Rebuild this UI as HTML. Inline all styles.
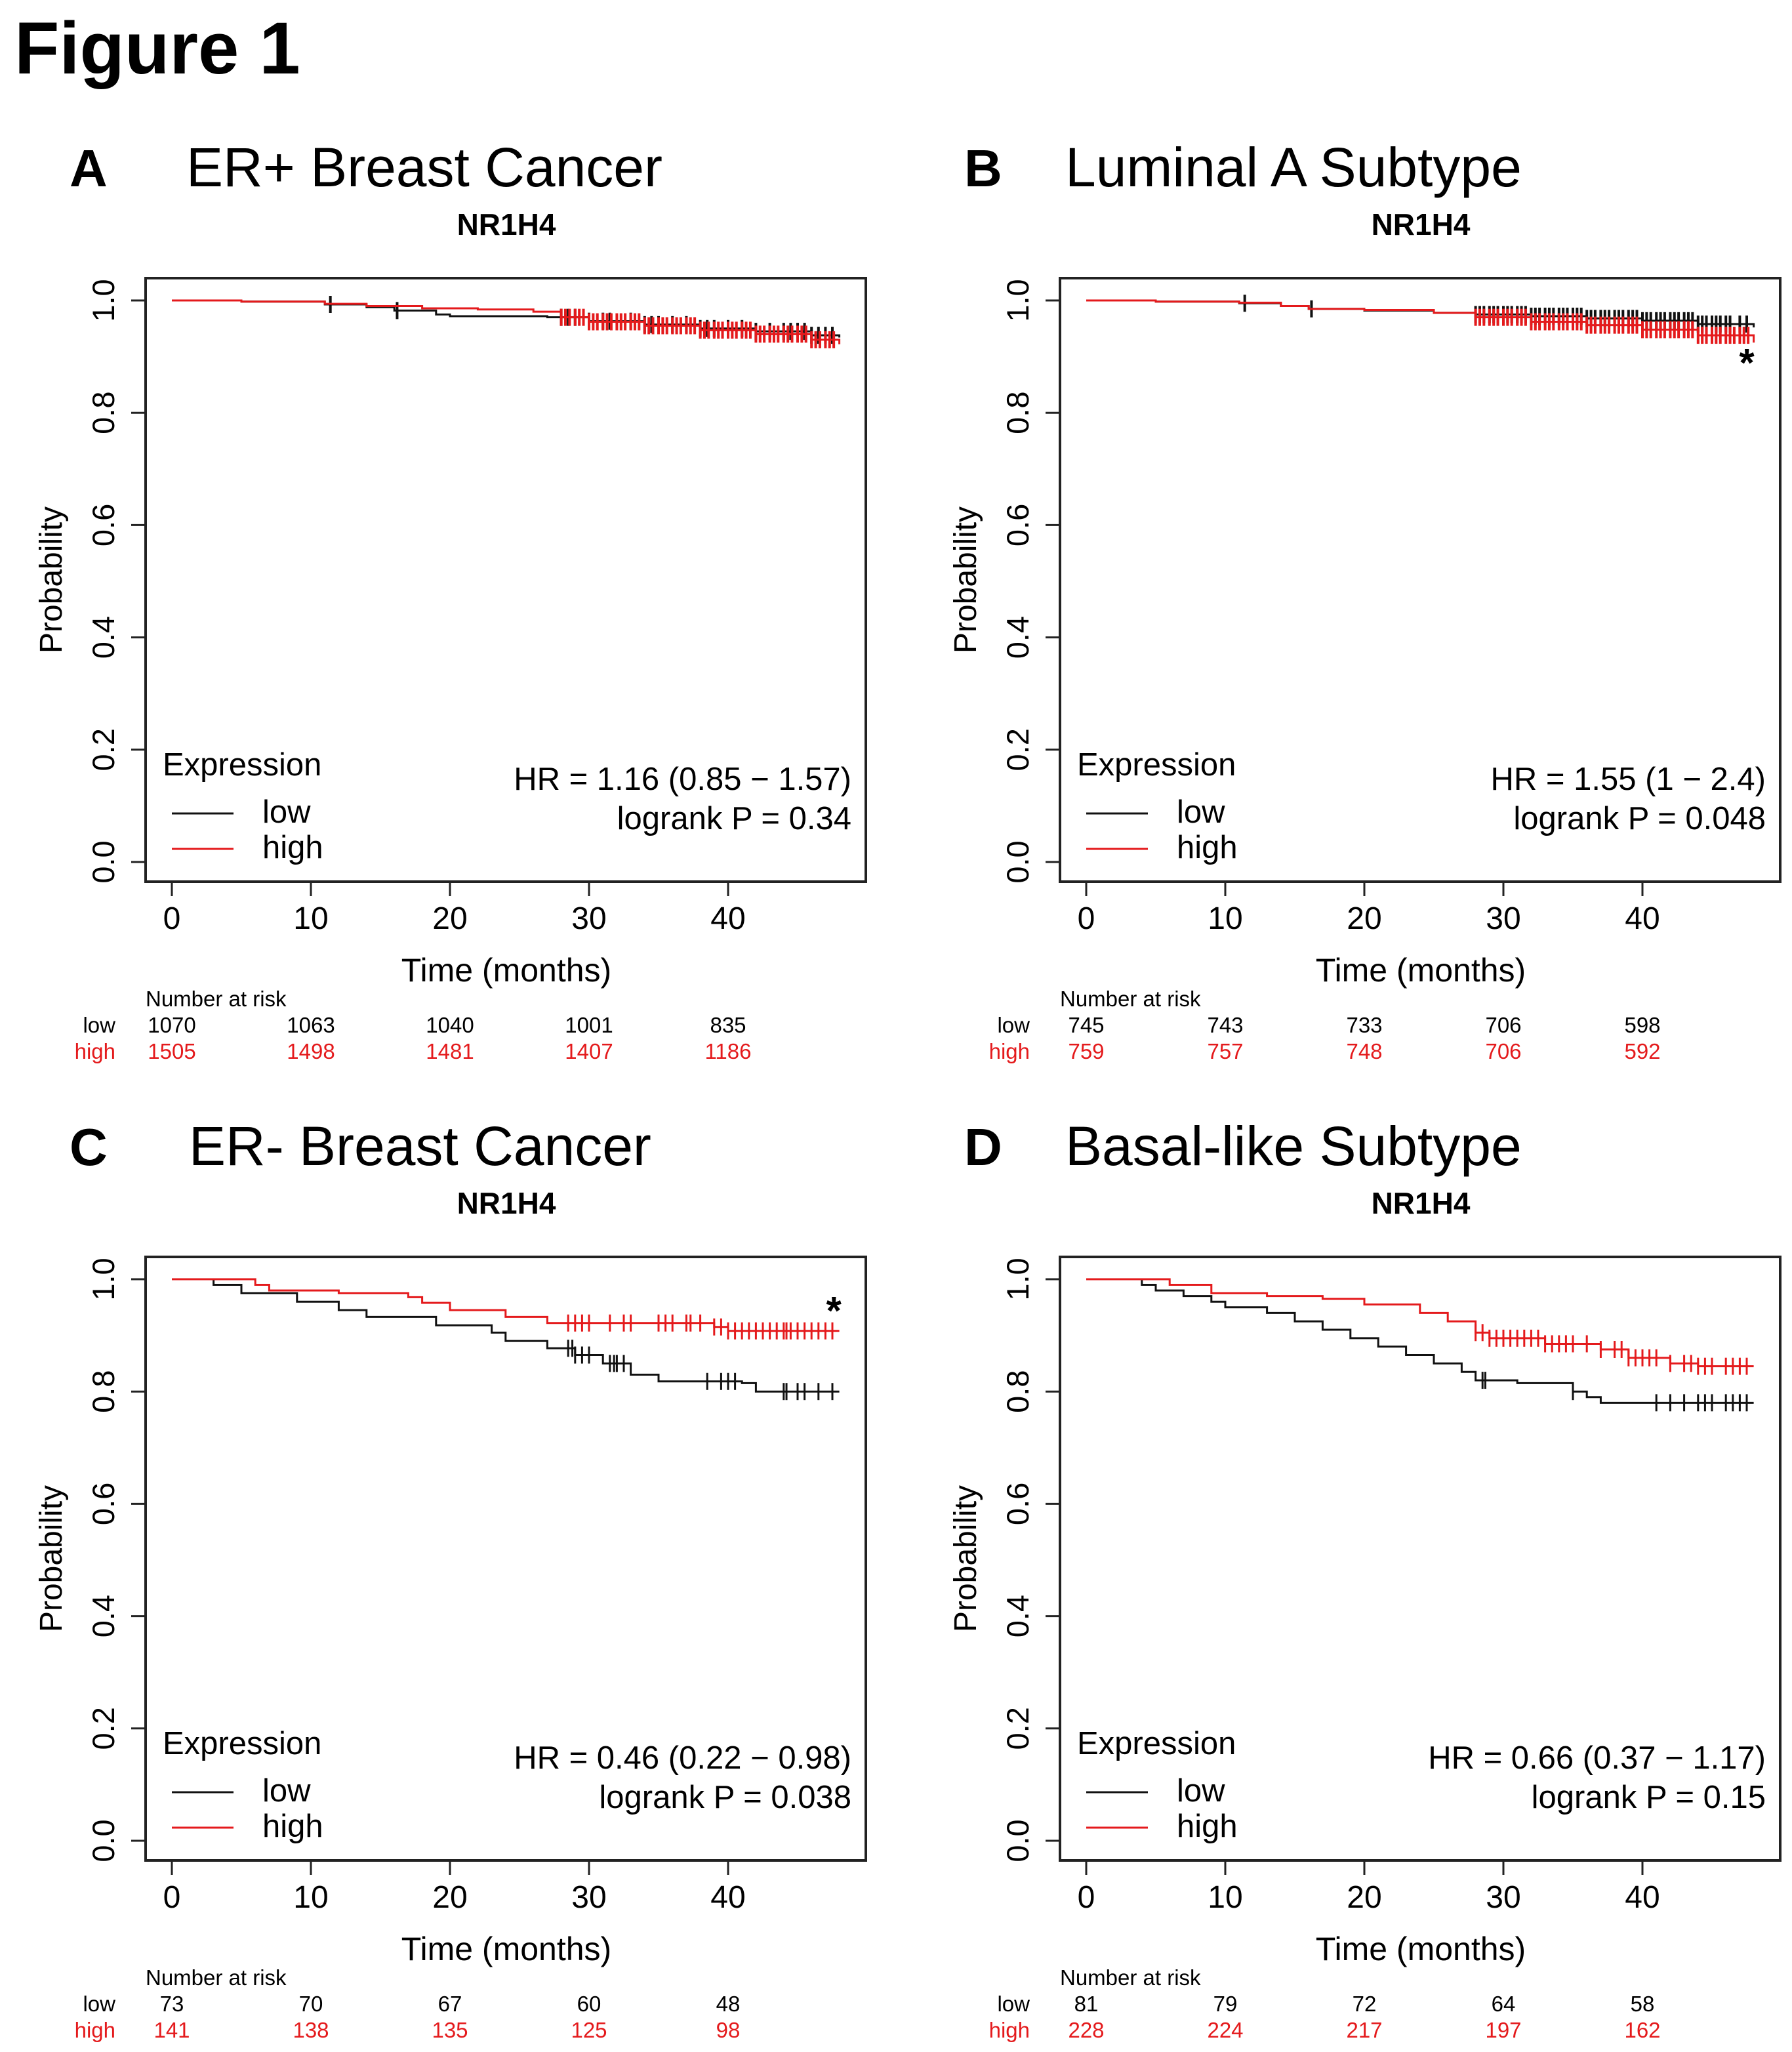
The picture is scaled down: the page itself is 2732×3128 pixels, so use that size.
<!DOCTYPE html>
<html><head><meta charset="utf-8">
<style>
html,body{margin:0;padding:0;background:#fff;}
svg{display:block;font-family:"Liberation Sans",Arial,sans-serif;}
</style></head>
<body>
<svg id="fig" width="2732" height="3128" viewBox="0 0 2732 3128" xmlns="http://www.w3.org/2000/svg">
<text x="22" y="112" font-size="112" font-weight="bold">Figure 1</text>
</svg>
<script>
// ---- data ----
const xTicks = [0,10,20,30,40];
const yTicks = [0.0,0.2,0.4,0.6,0.8,1.0];
const yTickLabels = ["0.0","0.2","0.4","0.6","0.8","1.0"];

const aLowT = [0,5,11,14,16,19,20,27,30,34,38,42,46,48];
const aLowS = [1,0.998,0.993,0.988,0.982,0.975,0.972,0.970,0.963,0.957,0.950,0.945,0.938,0.934];
const aHighT = [0,5,11,14,18,22,26,28,30,34,38,42,46,48];
const aHighS = [1,0.998,0.994,0.990,0.986,0.984,0.980,0.970,0.962,0.955,0.947,0.940,0.930,0.922];
const aLowCens = [11.4,16.2,28,28.5,29,30,31,31.5,33,34,34.5,35,36,37,38,38.5,39,40,41,42,43,44,44.5,45,45.5,46,46.5,47,47.5];
const aHighCens = [28,28.3,28.6,29,29.3,29.6,30,30.3,30.6,31,31.3,31.6,32,32.3,32.6,33,33.3,33.6,34,34.3,34.6,35,35.3,35.6,36,36.3,36.6,37,37.3,37.6,38,38.3,38.6,39,39.3,39.6,40,40.3,40.6,41,41.3,41.6,42,42.3,42.6,43,43.3,43.6,44,44.3,44.6,45,45.3,45.6,46,46.3,46.6,47,47.3,47.6];
const aLowRisk = ["1070","1063","1040","1001","835"];
const aHighRisk = ["1505","1498","1481","1407","1186"];

const bLowT = [0,5,11,14,16,20,25,28,32,36,40,44,48];
const bLowS = [1,0.998,0.995,0.99,0.985,0.982,0.978,0.975,0.972,0.968,0.964,0.958,0.952];
const bHighT = [0,5,11,14,16,20,25,28,32,36,40,44,48];
const bHighS = [1,0.998,0.996,0.99,0.985,0.983,0.978,0.970,0.962,0.956,0.948,0.938,0.925];
const bLowCens = [11.4,16.2,28,28.3,28.6,29,29.3,29.6,30,30.3,30.6,31,31.3,31.6,32,32.3,32.6,33,33.3,33.6,34,34.3,34.6,35,35.3,35.6,36,36.3,36.6,37,37.3,37.6,38,38.3,38.6,39,39.3,39.6,40,40.3,40.6,41,41.3,41.6,42,42.3,42.6,43,43.3,43.6,44,44.3,44.6,45,45.3,45.6,46,46.3,47,47.5];
const bHighCens = [28,28.3,28.6,29,29.3,29.6,30,30.3,30.6,31,31.3,31.6,32,32.3,32.6,33,33.3,33.6,34,34.3,34.6,35,35.3,35.6,36,36.3,36.6,37,37.3,37.6,38,38.3,38.6,39,39.3,39.6,40,40.3,40.6,41,41.3,41.6,42,42.3,42.6,43,43.3,43.6,44,44.3,44.6,45,45.3,45.6,46,46.3,46.6,47,47.3,47.6];
const bLowRisk = ["745","743","733","706","598"];
const bHighRisk = ["759","757","748","706","592"];

const cLowT = [0,3,5,9,12,14,19,23,24,27,29,31,33,35,41,42,48];
const cLowS = [1,0.99,0.975,0.96,0.945,0.933,0.918,0.905,0.89,0.877,0.865,0.85,0.83,0.818,0.815,0.80,0.80];
const cHighT = [0,6,7,12,17,18,20,24,27,39,40,48];
const cHighS = [1,0.99,0.98,0.975,0.968,0.958,0.945,0.933,0.922,0.915,0.908,0.908];
const cLowCens = [28.5,28.8,29,29.5,30,31.5,31.8,32,32.5,38.5,39.5,40,40.5,44,44.2,45,45.5,46.5,47.5];
const cHighCens = [28.5,29,29.5,30,31.5,32.5,33,35,35.5,36,37,37.3,38,39,39.5,40,40.5,41,41.5,42,42.5,43,43.5,44,44.2,44.5,45,45.5,46,46.5,47,47.5];
const cLowRisk = ["73","70","67","60","48"];
const cHighRisk = ["141","138","135","125","98"];

const dLowT = [0,4,5,7,9,10,13,15,17,19,21,23,25,27,28,31,35,36,37,48];
const dLowS = [1,0.99,0.98,0.97,0.96,0.95,0.94,0.925,0.91,0.895,0.88,0.865,0.85,0.835,0.82,0.815,0.80,0.79,0.78,0.78];
const dHighT = [0,6,9,13,17,20,24,26,28,29,33,37,39,42,44,48];
const dHighS = [1,0.99,0.975,0.97,0.965,0.955,0.94,0.925,0.905,0.895,0.885,0.875,0.86,0.85,0.845,0.845];
const dLowCens = [28.5,28.7,35,41,42,43,44,44.5,45,46,46.5,47,47.5];
const dHighCens = [28,28.5,29,29.5,30,30.5,31,31.5,32,32.5,33,33.5,34,34.5,35,36,37,38,38.5,39,39.5,40,40.5,41,42,43,43.5,44,44.5,45,46,46.5,47,47.5];
const dLowRisk = ["81","79","72","64","58"];
const dHighRisk = ["228","224","217","197","162"];

const panels = [
 {id:"a", letter:"A", title:"ER+ Breast Cancer", hr:"HR = 1.16 (0.85 − 1.57)", p:"logrank P = 0.34", dx:0, dy:0, lx:106, tx:284, cw:4,
  lowT:aLowT, lowS:aLowS, highT:aHighT, highS:aHighS, lowC:aLowCens, highC:aHighCens, lowR:aLowRisk, highR:aHighRisk, star:null},
 {id:"b", letter:"B", title:"Luminal A Subtype", hr:"HR = 1.55 (1 − 2.4)", p:"logrank P = 0.048", dx:1394, dy:0, lx:76, tx:230, cw:4,
  lowT:bLowT, lowS:bLowS, highT:bHighT, highS:bHighS, lowC:bLowCens, highC:bHighCens, lowR:bLowRisk, highR:bHighRisk, star:[47.5,0.90]},
 {id:"c", letter:"C", title:"ER- Breast Cancer", hr:"HR = 0.46 (0.22 − 0.98)", p:"logrank P = 0.038", dx:0, dy:1492, lx:106, tx:288, cw:3,
  lowT:cLowT, lowS:cLowS, highT:cHighT, highS:cHighS, lowC:cLowCens, highC:cHighCens, lowR:cLowRisk, highR:cHighRisk, star:[47.6,0.955]},
 {id:"d", letter:"D", title:"Basal-like Subtype", hr:"HR = 0.66 (0.37 − 1.17)", p:"logrank P = 0.15", dx:1394, dy:1492, lx:76, tx:230, cw:3,
  lowT:dLowT, lowS:dLowS, highT:dHighT, highS:dHighS, lowC:dLowCens, highC:dHighCens, lowR:dLowRisk, highR:dHighRisk, star:null}
];

const NS="http://www.w3.org/2000/svg";
const svg=document.getElementById('fig');
function mk(tag, attrs, parent, txt){
  const e=document.createElementNS(NS,tag);
  for(const k in attrs) e.setAttribute(k,attrs[k]);
  if(txt!==undefined) e.textContent=txt;
  parent.appendChild(e); return e;
}
const RED="#e41a1c";
panels.forEach(P=>{
  const g=mk('g',{transform:`translate(${P.dx},${P.dy})`},svg);
  
  
  const X=t=>262+t*21.2;
  const Y=s=>1314-s*856;
  let e;
  e=mk('text',{x:P.lx,y:284,'font-size':80,'font-weight':'bold'},g,P.letter);
   
  e=mk('text',{x:P.tx,y:284,'font-size':84},g,P.title);
   
  e=mk('text',{x:772,y:358,'font-size':46,'font-weight':'bold','text-anchor':'middle'},g,"NR1H4");
   
  e=mk('rect',{x:222,y:424,width:1098,height:920,fill:'none',stroke:'#222','stroke-width':4},g);
   
  yTicks.forEach((v,i)=>{
    const t=mk('line',{x1:200,x2:222,y1:Y(v),y2:Y(v),stroke:'#222','stroke-width':3},g);
     
    const l=mk('text',{x:0,y:0,'font-size':47,'text-anchor':'middle',transform:`translate(174,${Y(v)}) rotate(-90)`},g,yTickLabels[i]);
     
  });
  e=mk('text',{x:0,y:0,'font-size':48,'text-anchor':'middle',transform:`translate(94,884) rotate(-90)`},g,"Probability");
   
  xTicks.forEach(v=>{
    const t=mk('line',{x1:X(v),x2:X(v),y1:1344,y2:1366,stroke:'#222','stroke-width':3},g);
     
    const l=mk('text',{x:X(v),y:1416,'font-size':48,'text-anchor':'middle'},g,String(v));
     
  });
  e=mk('text',{x:772,y:1496,'font-size':50,'text-anchor':'middle'},g,"Time (months)");
   
  function curve(T,S,C,color,name){
    let d=`M${X(T[0])},${Y(S[0])}`;
    for(let i=1;i<T.length;i++){ d+=` H${X(T[i])} V${Y(S[i])}`; }
    const p=mk('path',{d:d,fill:'none',stroke:color,'stroke-width':3},g);
     
    C.forEach(c=>{
      let s=S[0]; for(let i=0;i<T.length;i++){ if(T[i]<=c) s=S[i]; }
      const m=mk('line',{x1:X(c),x2:X(c),y1:Y(s)-13,y2:Y(s)+13,stroke:color,'stroke-width':P.cw},g);
       
    });
  }
  curve(P.lowT,P.lowS,P.lowC,'#111','low');
  curve(P.highT,P.highS,P.highC,RED,'high');
  if(P.star){
    e=mk('text',{x:X(P.star[0]),y:Y(P.star[1])+30,'font-size':60,'font-weight':'bold','text-anchor':'middle'},g,"*");
     
  }
  e=mk('text',{x:248,y:1182,'font-size':49},g,"Expression");
   
  e=mk('line',{x1:262,x2:356,y1:1240,y2:1240,stroke:'#111','stroke-width':3},g);
   
  e=mk('text',{x:400,y:1254,'font-size':49},g,"low");
   
  e=mk('line',{x1:262,x2:356,y1:1294,y2:1294,stroke:RED,'stroke-width':3},g);
   
  e=mk('text',{x:400,y:1308,'font-size':49},g,"high");
   
  e=mk('text',{x:1298,y:1204,'font-size':49,'text-anchor':'end'},g,P.hr);
   
  e=mk('text',{x:1298,y:1264,'font-size':49,'text-anchor':'end'},g,P.p);
   
  e=mk('text',{x:222,y:1534,'font-size':33},g,"Number at risk");
   
  e=mk('text',{x:176,y:1574,'font-size':33,'text-anchor':'end'},g,"low");
   
  e=mk('text',{x:176,y:1614,'font-size':33,'text-anchor':'end',fill:RED},g,"high");
   
  xTicks.forEach((v,i)=>{
    const a=mk('text',{x:X(v),y:1574,'font-size':33,'text-anchor':'middle'},g,P.lowR[i]);
     
    const b=mk('text',{x:X(v),y:1614,'font-size':33,'text-anchor':'middle',fill:RED},g,P.highR[i]);
     
  });
});
</script>
</body></html>
